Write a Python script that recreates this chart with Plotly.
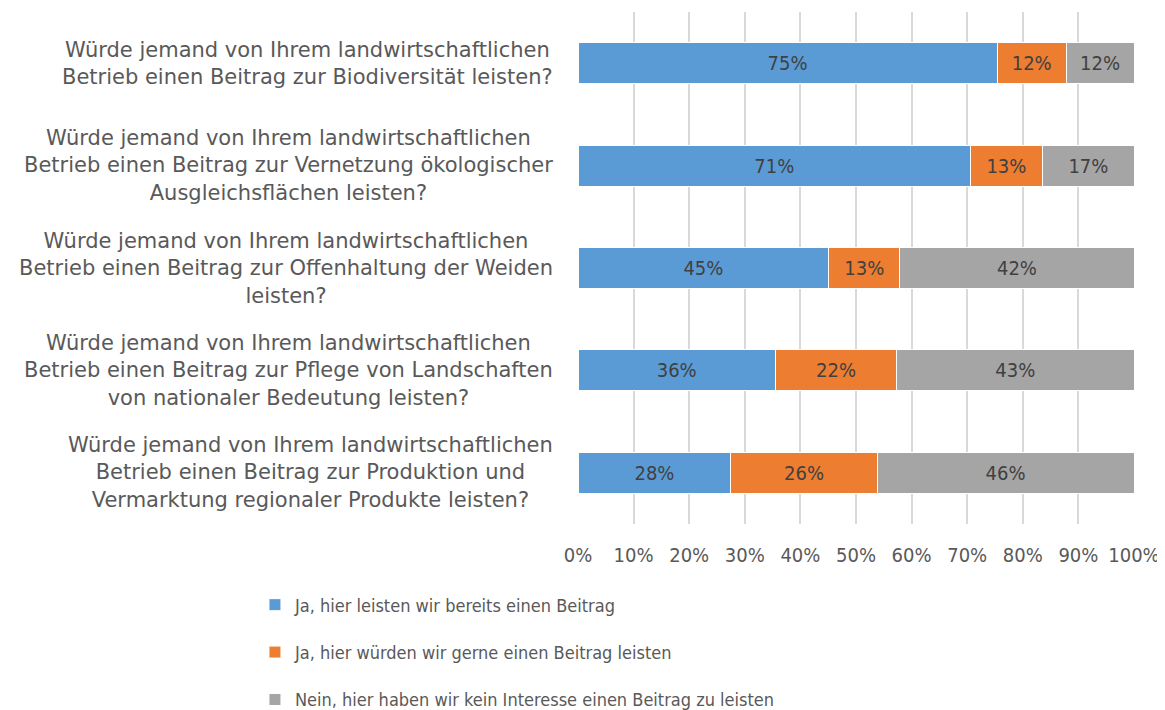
import plotly.graph_objects as go

categories = [
    "Würde jemand von Ihrem landwirtschaftlichen<br>Betrieb einen Beitrag zur Biodiversität leisten?",
    "Würde jemand von Ihrem landwirtschaftlichen<br>Betrieb einen Beitrag zur Vernetzung ökologischer<br>Ausgleichsflächen leisten?",
    "Würde jemand von Ihrem landwirtschaftlichen<br>Betrieb einen Beitrag zur Offenhaltung der Weiden<br>leisten?",
    "Würde jemand von Ihrem landwirtschaftlichen<br>Betrieb einen Beitrag zur Pflege von Landschaften<br>von nationaler Bedeutung leisten?",
    "Würde jemand von Ihrem landwirtschaftlichen<br>Betrieb einen Beitrag zur Produktion und<br>Vermarktung regionaler Produkte leisten?",
]
keys = ["c1", "c2", "c3", "c4", "c5"]

bereits = [75.4, 70.6, 45.1, 35.5, 27.5]
gerne = [12.4, 12.9, 12.8, 21.8, 26.3]
kein = [12.2, 16.6, 42.1, 42.7, 46.2]

series = [
    ("Ja, hier leisten wir bereits einen Beitrag", bereits, "#5B9BD5"),
    ("Ja, hier würden wir gerne einen Beitrag leisten", gerne, "#ED7D31"),
    ("Nein, hier haben wir kein Interesse einen Beitrag zu leisten", kein, "#A5A5A5"),
]

tick_vals = [0, 10, 20, 30, 40, 50, 60, 70, 80, 90, 100]
tick_text = ["0%", "10%", "20%", "30%", "40%", "50%", "60%", "70%", "80%", "90%", "100%"]

CAT_FONT = "'DejaVu Sans', sans-serif"
NARROW = "'DejaVu Sans Condensed', sans-serif"

fig = go.Figure()
for i, (name, vals, col) in enumerate(series):
    fig.add_trace(go.Bar(
        y=keys, x=vals, name=name, orientation="h",
        marker=dict(color=col, line=dict(color="white", width=1)),
        text=[f"{round(v):d}%" for v in vals],
        textposition="inside", insidetextanchor="middle",
        textfont=dict(color="#404040", size=20, family=NARROW),
        legendgroup=f"g{i}",
    ))

for k, lab in zip(keys, categories):
    fig.add_annotation(
        x=0, xref="x", y=k, yref="y", text=lab, showarrow=False,
        xanchor="right", align="center", xshift=-23,
        font=dict(size=21, color="#595959", family=CAT_FONT),
    )

fig.update_layout(
    barmode="stack", bargap=0.6,
    width=1165, height=710,
    margin=dict(l=570, r=39, t=4, b=194, autoexpand=False),
    paper_bgcolor="white", plot_bgcolor="white",
    font=dict(family=NARROW, size=20, color="#595959"),
    legend=dict(
        orientation="v", x=-0.581, xanchor="left", y=-0.122, yanchor="top",
        font=dict(size=18, color="#595959", family=NARROW),
        tracegroupgap=21, itemwidth=30,
    ),
    uniformtext=dict(minsize=10, mode="show"),
)
fig.update_xaxes(
    range=[0, 100], tickvals=tick_vals, ticktext=tick_text, tickangle=0,
    showgrid=True, gridcolor="#D9D9D9", gridwidth=1.5, zeroline=False,
    showline=False, ticks="", ticklabelstandoff=17,
    tickfont=dict(size=20, color="#595959", family=NARROW),
)
fig.update_yaxes(
    categoryorder="array", categoryarray=keys, autorange="reversed",
    showticklabels=False, showgrid=False, zeroline=False, showline=False,
)

fig.write_html("out.html")
